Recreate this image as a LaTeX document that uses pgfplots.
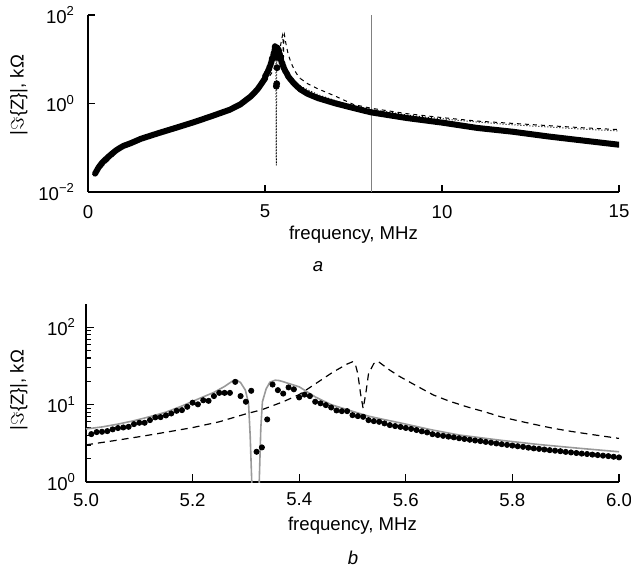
\documentclass[border=0pt]{standalone}
\usepackage{fontspec}
\setmainfont{Liberation Sans}
\usepackage{pgfplots}
\usepackage{pgfplotstable}
\pgfplotsset{compat=1.18}

% measured data, 5.01-6.00 MHz
\pgfplotstableread{
x y
5.01 4.16
5.02 4.42
5.03 4.46
5.04 4.55
5.05 4.79
5.06 4.98
5.07 5.07
5.08 5.17
5.09 5.60
5.10 5.83
5.11 5.83
5.12 6.31
5.13 6.84
5.14 6.90
5.15 7.25
5.16 7.69
5.17 8.32
5.18 8.49
5.19 9.38
5.20 10.6
5.21 10.1
5.22 11.4
5.23 11.2
5.24 12.9
5.25 14.2
5.26 14.2
5.27 14.2
5.28 19.7
5.29 12.9
5.30 10.9
5.31 15.1
5.32 2.46
5.33 2.80
5.34 6.44
5.35 18.2
5.36 15.4
5.37 13.9
5.38 16.7
5.39 15.8
5.40 12.4
5.41 13.5
5.42 12.9
5.43 10.9
5.44 10.4
5.45 9.86
5.46 9.19
5.47 8.41
5.48 8.24
5.49 8.24
5.50 7.32
5.51 7.11
5.52 6.96
5.53 6.31
5.54 6.12
5.55 6.00
5.56 5.72
5.57 5.44
5.58 5.28
5.59 5.15
5.60 5.00
5.61 4.86
5.62 4.70
5.63 4.52
5.64 4.38
5.65 4.15
5.66 4.05
5.67 3.95
5.68 3.86
5.69 3.78
5.70 3.68
5.71 3.60
5.72 3.52
5.73 3.44
5.74 3.38
5.75 3.30
5.76 3.22
5.77 3.15
5.78 3.08
5.79 3.02
5.80 2.96
5.81 2.90
5.82 2.85
5.83 2.78
5.84 2.72
5.85 2.68
5.86 2.63
5.87 2.58
5.88 2.54
5.89 2.50
5.90 2.45
5.91 2.41
5.92 2.37
5.93 2.33
5.94 2.30
5.95 2.26
5.96 2.23
5.97 2.19
5.98 2.16
5.99 2.12
6.00 2.08
}\meas

% measured data below 5 MHz
\pgfplotstableread{
x y
0.2 0.026
0.3 0.036
0.4 0.046
0.5 0.055
0.6 0.065
0.7 0.076
0.8 0.088
0.9 0.099
1.0 0.110
1.2 0.126
1.5 0.160
2.0 0.215
2.5 0.285
3.0 0.38
3.5 0.52
4.0 0.72
4.3 0.95
4.6 1.45
4.7 1.75
4.8 2.15
4.9 2.8
5.0 3.7
5.01 4.16
}\measlow

% measured data above 6 MHz
\pgfplotstableread{
x y
6.0 2.08
6.2 1.66
6.5 1.32
7.0 1.00
7.5 0.79
8.0 0.63
9.0 0.47
10.0 0.37
11.0 0.28
12.0 0.23
13.0 0.18
14.0 0.145
15.0 0.117
}\meashigh

% model 1 (grey / dotted)
\pgfplotstableread{
x y
5.00 4.85
5.03 5.15
5.06 5.60
5.09 6.20
5.12 7.00
5.15 8.00
5.18 9.60
5.21 11.8
5.24 14.4
5.26 17.2
5.275 20.2
5.283 20.7
5.29 19.3
5.299 15.4
5.305 10.4
5.308 4.0
5.311 1.0
5.316 0.1
5.319 0.04
5.322 0.1
5.325 1.0
5.328 5.0
5.331 10.9
5.338 16.0
5.345 19.5
5.355 20.7
5.362 20.5
5.37 19.8
5.38 18.8
5.40 17.0
5.43 12.6
5.46 10.0
5.50 8.2
5.53 7.1
5.56 6.4
5.59 5.8
5.65 4.7
5.70 4.05
5.78 3.45
5.85 3.05
5.92 2.75
6.00 2.46
}\modA

\pgfplotstableread{
x y
0.2 0.026
1.0 0.110
2.0 0.215
3.0 0.38
4.0 0.74
4.5 1.30
4.8 2.30
5.0 4.85
}\modAlow

\pgfplotstableread{
x y
6.0 2.46
6.5 1.58
7.0 1.15
7.5 0.89
8.0 0.74
9.0 0.55
10.0 0.45
11.0 0.38
12.0 0.33
13.0 0.295
14.0 0.263
15.0 0.24
}\modAhigh

% model 2 (dashed)
\pgfplotstableread{
x y
5.00 3.02
5.05 3.40
5.10 3.85
5.15 4.40
5.20 5.05
5.25 6.00
5.30 7.60
5.33 8.60
5.37 10.9
5.40 13.5
5.433 19.1
5.464 26.5
5.49 33.5
5.50 35.8
5.505 34.0
5.51 25.0
5.515 14.0
5.52 8.9
5.525 14.0
5.53 25.0
5.54 34.0
5.548 36.2
5.57 27.9
5.589 23.0
5.62 17.5
5.652 13.3
5.68 11.2
5.714 9.4
5.75 8.0
5.777 7.0
5.81 6.2
5.839 5.6
5.87 5.05
5.902 4.6
5.95 4.1
6.00 3.66
}\modB

\pgfplotstableread{
x y
0.2 0.026
1.0 0.110
2.0 0.215
3.0 0.38
4.0 0.70
4.5 1.20
4.8 1.90
5.0 3.02
}\modBlow

\pgfplotstableread{
x y
6.0 3.66
6.2 2.82
6.5 2.14
7.0 1.45
7.5 0.95
8.0 0.78
9.0 0.59
10.0 0.48
11.0 0.40
12.0 0.355
13.0 0.316
14.0 0.282
15.0 0.257
}\modBhigh

\begin{document}
\begin{tikzpicture}[font=\fontsize{9.3}{11}\selectfont]
\useasboundingbox (-44pt,-189.5pt) rectangle (271.5pt,96pt);
% ---------------- panel a ----------------
\begin{axis}[
  name=top,
  at={(0pt,0pt)}, anchor=south west,
  scale only axis, width=265.5pt, height=88.5pt,
  xmin=0, xmax=15, ymode=log, ymin=0.01, ymax=100,
  axis x line*=bottom, axis y line*=left,
  axis line style={line width=0.8pt, -},
  tick align=inside, major tick length=3.5pt,
  tick style={line width=0.6pt, black},
  xtick={0,5,10,15}, xticklabels={0,5,10,15},
  ytick={0.01,1,100},
  yticklabels={10\textsuperscript{−2},10\textsuperscript{0},10\textsuperscript{2}},
  yminorticks=false,
  xticklabel style={yshift=-3pt},
  yticklabel style={xshift=-3pt},
  xlabel={frequency, MHz},
  ylabel={|$\Im$\{Z\}|, kΩ},
  xlabel style={at={(axis description cs:0.5,-0.243)}, anchor=center},
  ylabel style={at={(axis description cs:-0.13,0.548)}, anchor=center},
]
\addplot[gray, line width=0.6pt] coordinates {(8,0.01) (8,100)};
\addplot[black, line width=0.5pt, dash pattern=on 2pt off 2pt] table {\modBlow};
\addplot[black, line width=0.5pt, dash pattern=on 2pt off 2pt] table {\modB};
\addplot[black, line width=0.5pt, dash pattern=on 2pt off 2pt] table {\modBhigh};
\addplot[black, line width=0.5pt, densely dotted] table {\modAlow};
\addplot[black, line width=0.5pt, densely dotted] table {\modA};
\addplot[black, line width=0.5pt, densely dotted] table {\modAhigh};
\addplot[black, line width=3pt, line cap=round, line join=round] table {\measlow};
\addplot[black, line width=3pt, line cap=round, line join=round,
  x filter/.expression={(x>5.315 && x<5.345) ? nan : x}] table {\meas};
\addplot[black, line width=3pt, line cap=round, line join=round] table {\meashigh};
\addplot[black, only marks, mark=*, mark size=1.5pt,
  x filter/.expression={(x>5.315 && x<5.345) ? x : nan}] table {\meas};
\end{axis}
\node[font=\fontsize{9.3}{11}\selectfont\itshape] at (115pt,-37.5pt) {a};
% ---------------- panel b ----------------
\begin{axis}[
  name=bottom,
  at={(-1pt,-145pt)}, anchor=south west,
  scale only axis, width=266.5pt, height=89pt,
  xmin=5, xmax=6, ymode=log, ymin=1, ymax=200,
  axis x line*=bottom, axis y line*=left,
  axis line style={line width=1.2pt, -},
  tick align=inside, major tick length=4pt, minor tick length=2.5pt,
  tick style={line width=0.6pt, black},
  xtick={5,5.2,5.4,5.6,5.8,6}, xticklabels={5.0,5.2,5.4,5.6,5.8,6.0},
  ytick={1,10,100},
  yticklabels={10\textsuperscript{0},10\textsuperscript{1},10\textsuperscript{2}},
  xticklabel style={yshift=-2pt},
  yticklabel style={xshift=-1.5pt},
  xlabel={frequency, MHz},
  ylabel={|$\Im$\{Z\}|, kΩ},
  xlabel style={at={(axis description cs:0.5,-0.247)}, anchor=center},
  ylabel style={at={(axis description cs:-0.126,0.517)}, anchor=center},
]
\addplot[black, line width=0.6pt, dash pattern=on 3.5pt off 2.5pt] table {\modB};
\addplot[gray!80, line width=0.8pt] table {\modA};
\addplot[black, only marks, mark=*, mark size=1.3pt] table {\meas};
\end{axis}
\node[font=\fontsize{9.3}{11}\selectfont\itshape] at (132.5pt,-183pt) {b};
\end{tikzpicture}
\end{document}
